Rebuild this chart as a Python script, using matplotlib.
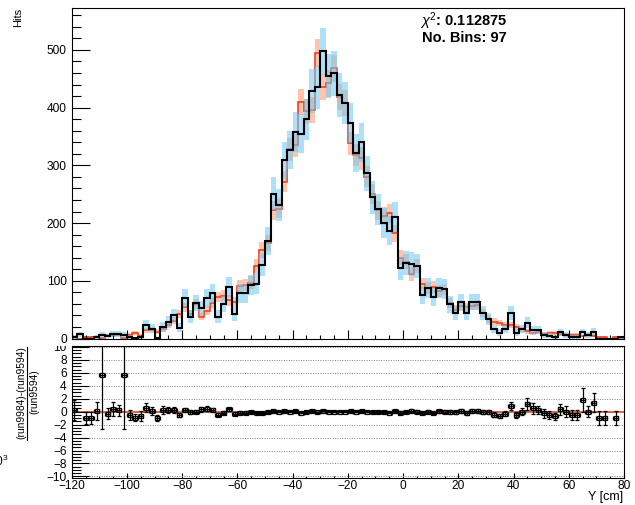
import numpy as np
import matplotlib.pyplot as plt
from matplotlib.ticker import MultipleLocator
from matplotlib.transforms import Bbox, TransformedBbox
from matplotlib.lines import Line2D

plt.rcParams['font.family'] = ['Liberation Sans', 'DejaVu Sans']
plt.rcParams['mathtext.fontset'] = 'custom'
plt.rcParams['mathtext.rm'] = 'Liberation Sans'
plt.rcParams['mathtext.it'] = 'Liberation Sans:italic'
plt.rcParams['mathtext.bf'] = 'Liberation Sans:bold'

# Y position histograms, 2 cm bins from -120 to 80 cm
edges = np.arange(-120, 82, 2)

run9984 = np.array([
    3, 7, 0, 0, 3, 6, 4, 8, 8, 6,
    3, 1, 2, 23, 17, 1, 20, 29, 40, 19,
    70, 38, 61, 52, 70, 78, 38, 60, 89, 42,
    78, 78, 93, 95, 128, 169, 251, 231, 309, 327,
    358, 355, 380, 429, 435, 498, 455, 460, 422, 408,
    373, 321, 340, 286, 245, 224, 200, 187, 211, 122,
    131, 129, 126, 76, 88, 72, 88, 86, 59, 44,
    63, 45, 63, 63, 44, 33, 16, 10, 16, 44,
    10, 16, 27, 15, 15, 6, 5, 3, 11, 6,
    3, 3, 11, 6, 12, 0, 0, 0, 0, 2], dtype=float)

run9594 = np.array([
    2.4, 0, 3, 3, 2.7, 0.9, 5.7, 5.7, 6.7, 0.9,
    6, 10, 5, 14, 15, 12, 16, 23, 31, 42,
    54, 42, 60, 38, 48, 62, 72, 74, 66, 64,
    91, 93, 97, 125, 153, 166, 222, 225, 272, 328,
    335, 410, 394, 396, 495, 436, 442, 468, 419, 408,
    338, 318, 312, 280, 250, 222, 212, 217, 182, 140,
    133, 112, 125, 95, 88, 90, 82, 85, 62, 50,
    56, 54, 57, 58, 44, 34, 29, 27, 23, 23,
    20, 16, 12.5, 10, 12, 8, 10, 10, 8, 6,
    6, 6, 4, 6, 5, 2, 2, 0, 2, 0])

# sum of squared weights per entry
w2_9984 = 3.3
w2_9594 = 1.2

chi2_text = r'$\chi^{2}$: 0.112875'
nbins_text = 'No. Bins: 97'

var_b = w2_9984 * run9984
var_r = w2_9594 * run9594
err_b = np.sqrt(var_b)
err_r = np.sqrt(var_r)

centers = 0.5 * (edges[:-1] + edges[1:])
ok = run9594 > 0
diff = run9984 - run9594
ratio = diff[ok] / run9594[ok]
ratio_err = np.sqrt((var_b + var_r)[ok] / run9594[ok]**2
                    + diff[ok]**2 * var_r[ok] / run9594[ok]**4)

W, H = 635, 505
fig = plt.figure(figsize=(W / 100, H / 100), dpi=100)
ax1 = fig.add_axes([71.7 / W, 1 - 338.5 / H, 552.3 / W, 330.5 / H])
ax2 = fig.add_axes([71.7 / W, 1 - 477.7 / H, 552.3 / W, 132.0 / H])

red = '#f2401c'

# upper pad: the two histograms with error bands
ax1.stairs(run9594 + err_r, edges, baseline=run9594 - err_r, fill=True,
           color='#ff8a5c', alpha=0.5, lw=0)
ax1.stairs(run9594, edges, baseline=None, color=red, lw=1.2)
ax1.stairs(run9984 + err_b, edges, baseline=run9984 - err_b, fill=True,
           color='#6ccaf5', alpha=0.55, lw=0)
ax1.stairs(run9984, edges, baseline=None, color='black', lw=1.5)

ax1.set_xlim(-120, 80)
ax1.set_ylim(0, 1.15 * run9984.max())
ax1.yaxis.set_major_locator(MultipleLocator(100))
ax1.yaxis.set_minor_locator(MultipleLocator(20))
ax1.xaxis.set_major_locator(MultipleLocator(20))
ax1.xaxis.set_minor_locator(MultipleLocator(5))
ax1.tick_params(axis='y', which='major', direction='in', length=13, width=0.8,
                labelsize=8.6, pad=3.6)
ax1.tick_params(axis='y', which='minor', direction='in', length=6.5, width=0.8)
ax1.tick_params(axis='x', which='major', direction='in', length=6.5, width=0.8,
                labelbottom=False)
ax1.tick_params(axis='x', which='minor', direction='in', length=3.2, width=0.8)
for s in ax1.spines.values():
    s.set_linewidth(0.8)

fig.text(18 / W, 1 - 8 / H, 'Hits', rotation=90, ha='center', va='top',
         fontsize=8)
fig.text(464 / W, 1 - 21 / H, chi2_text, ha='center', va='center',
         fontsize=10.5, fontweight='bold')
fig.text(464 / W, 1 - 37.5 / H, nbins_text, ha='center', va='center',
         fontsize=10.5, fontweight='bold')

# lower pad: relative difference
ax2.axhline(0, color=red, lw=1.2, zorder=1)
ax2.errorbar(centers[ok], ratio, xerr=1.0, yerr=ratio_err, fmt='s', ms=2.8,
             mfc='none', mec='black', mew=0.9, ecolor='black', elinewidth=0.9,
             capsize=1.5, capthick=0.9, zorder=3)
ax2.set_xlim(-120, 80)
ax2.set_ylim(-10.2, 10.2)
ax2.set_yticks(np.arange(-10, 11, 2))
ax2.yaxis.set_minor_locator(MultipleLocator(0.5))
ax2.xaxis.set_major_locator(MultipleLocator(20))
ax2.xaxis.set_minor_locator(MultipleLocator(5))
ax2.grid(axis='y', which='major', linestyle=(0, (1, 1.5)), color='#808080',
         lw=0.7)
ax2.tick_params(axis='y', which='major', direction='in', length=12, width=0.8,
                labelsize=8.6, pad=3.6)
ax2.tick_params(axis='y', which='minor', direction='in', length=6.5, width=0.8)
ax2.tick_params(axis='x', which='major', direction='in', length=3.3, width=0.8,
                labelsize=8.6, pad=2)
ax2.tick_params(axis='x', which='minor', direction='in', length=1.8, width=0.8)
for s in ax2.spines.values():
    s.set_linewidth(0.8)

# tick labels of the lower pad do not reach above its frame
pad_clip = TransformedBbox(Bbox([[0, 0], [1, 1 - 345.7 / H]]), fig.transFigure)
for lbl in ax2.get_yticklabels():
    lbl.set_clip_box(pad_clip)
    lbl.set_clip_on(True)

fig.text(623 / W, 1 - 497 / H, 'Y [cm]', ha='right', va='center', fontsize=9)

fig.text(21.7 / W, 1 - 393 / H, '(run9984)-(run9594)', rotation=90,
         ha='center', va='center', fontsize=7.4)
fig.add_artist(Line2D([26.5 / W, 26.5 / W], [1 - 347 / H, 1 - 440 / H],
                      transform=fig.transFigure, color='black', lw=0.8))
fig.text(34.5 / W, 1 - 392 / H, '(run9594)', rotation=90,
         ha='center', va='center', fontsize=7.4)
fig.text(9 / W, 1 - 461 / H, r'10$^{3}$', ha='right', va='center',
         fontsize=8.6)

fig.savefig('out.png', dpi=100)
